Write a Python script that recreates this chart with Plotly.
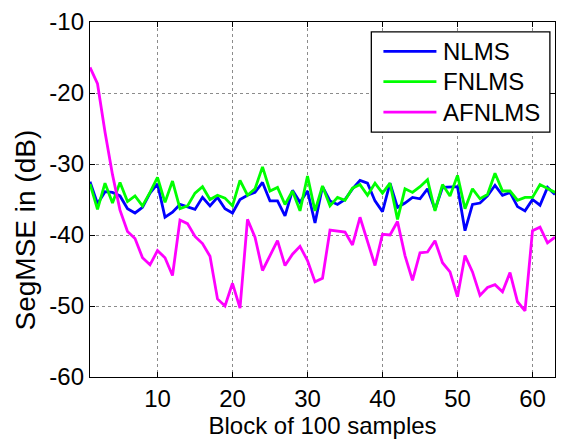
import plotly.graph_objects as go

# Block index (each block = 100 samples)
blocks = list(range(1, 64))

nlms = [-32.5, -35.6, -33.9, -34.0, -34.5, -36.3, -36.9, -36.1, -34.1, -32.8,
        -37.5, -36.8, -35.7, -36.0, -36.4, -34.7, -35.9, -34.7, -36.3, -36.9,
        -35.0, -34.4, -34.0, -32.6, -35.2, -35.2, -37.3, -33.7, -35.4, -33.8,
        -38.3, -33.2, -35.2, -35.7, -35.0, -33.5, -32.3, -32.7, -35.2, -36.7,
        -32.7, -36.1, -35.5, -34.7, -34.9, -33.5, -36.4, -33.3, -33.3, -33.2,
        -39.4, -35.7, -35.5, -34.5, -33.0, -34.4, -34.0, -36.0, -36.6, -35.0,
        -35.8, -33.3, -34.3]

fnlms = [-32.8, -36.4, -32.7, -35.5, -32.6, -35.3, -34.5, -35.9, -34.0, -31.9,
         -35.4, -32.4, -36.3, -35.9, -34.1, -33.2, -35.0, -34.4, -34.8, -35.9,
         -32.3, -34.4, -33.5, -30.4, -33.8, -33.3, -35.7, -33.8, -36.6, -31.7,
         -36.6, -33.1, -35.9, -34.7, -35.1, -33.4, -32.9, -34.4, -32.7, -34.1,
         -32.7, -37.8, -33.5, -34.0, -33.2, -32.2, -36.6, -32.9, -34.5, -31.6,
         -36.3, -33.5, -34.9, -34.3, -31.3, -33.8, -33.8, -35.1, -34.7, -34.7,
         -32.9, -33.5, -34.0]

afnlms = [-16.4, -18.7, -25.5, -31.5, -36.5, -39.5, -40.5, -43.2, -44.2, -42.2,
          -43.2, -45.7, -37.9, -38.4, -40.2, -41.2, -43.0, -49.0, -50.0, -46.8,
          -50.3, -37.8, -40.3, -45.0, -42.9, -40.8, -44.3, -42.7, -41.6, -43.6,
          -46.6, -46.1, -39.3, -39.4, -39.6, -41.4, -37.5, -40.9, -44.3, -39.9,
          -40.0, -38.1, -42.9, -46.4, -42.5, -42.4, -40.8, -43.9, -45.2, -48.7,
          -42.9, -45.2, -48.5, -47.4, -47.0, -48.0, -45.3, -49.4, -50.7, -39.4,
          -38.9, -41.1, -40.3]

names = ["NLMS", "FNLMS", "AFNLMS"]
colors = ["#0000ff", "#00ff00", "#ff00ff"]
series = [nlms, fnlms, afnlms]

x_ticks = [10, 20, 30, 40, 50, 60]
y_ticks = [-60, -50, -40, -30, -20, -10]

FONT = "Liberation Sans, Arial, sans-serif"
FS = 24

fig = go.Figure()
for name, col, vals in zip(names, colors, series):
    fig.add_trace(go.Scatter(x=blocks, y=vals, mode="lines", name=name,
                             line=dict(color=col, width=2.8),
                             showlegend=False))

axis_common = dict(
    showline=True, linecolor="black", linewidth=1.3, mirror="ticks",
    ticks="inside", ticklen=5, tickcolor="black", tickwidth=1,
    showgrid=True, gridcolor="#8c8c8c", griddash="dot", gridwidth=1,
    zeroline=False, tickfont=dict(family=FONT, size=FS, color="black"),
)

fig.update_xaxes(range=[1, 63], tickvals=x_ticks,
                 title=dict(text="Block of 100 samples",
                            font=dict(family=FONT, size=FS, color="black"),
                            standoff=2),
                 **axis_common)
fig.update_yaxes(range=[-60, -10], tickvals=y_ticks,
                 ticktext=[str(v) for v in y_ticks],
                 **axis_common)

# Vertical axis label
fig.add_annotation(xref="paper", yref="paper", x=-0.1395, y=0.413,
                   text="SegMSE in (dB)", textangle=-90, showarrow=False,
                   xanchor="center", yanchor="middle",
                   font=dict(family=FONT, size=28, color="black"))

# Boxed legend in the upper right corner
box = dict(x0=0.605, x1=0.989, y0=0.690, y1=0.972)
fig.add_shape(type="rect", xref="paper", yref="paper", **box,
              line=dict(color="black", width=1.3), fillcolor="white", layer="above")
row_y = [0.917, 0.832, 0.746]
for name, col, ry in zip(names, colors, row_y):
    fig.add_shape(type="line", xref="paper", yref="paper",
                  x0=0.631, x1=0.745, y0=ry, y1=ry,
                  line=dict(color=col, width=2.8), layer="above")
    fig.add_annotation(xref="paper", yref="paper", x=0.755, y=ry,
                       text=name, showarrow=False, xanchor="left", yanchor="middle",
                       font=dict(family=FONT, size=FS, color="black"))

fig.update_layout(
    width=564, height=439,
    margin=dict(l=90, r=8, t=22, b=59),
    paper_bgcolor="white", plot_bgcolor="white",
    font=dict(family=FONT, color="black"),
)

fig.write_html("out.html")
